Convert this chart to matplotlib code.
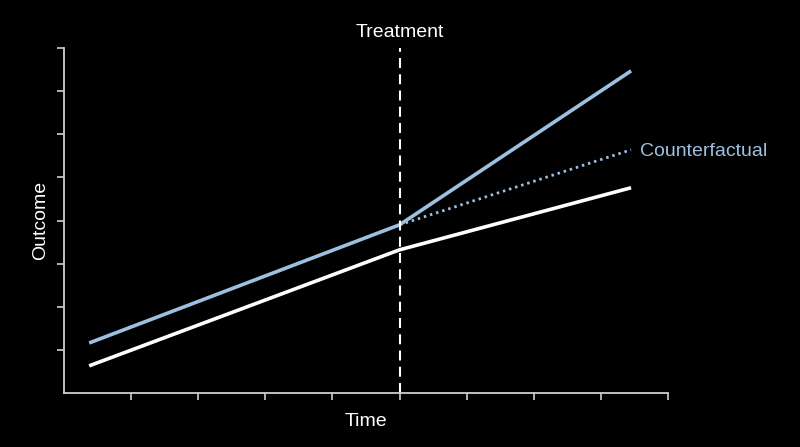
import matplotlib
matplotlib.use("Agg")
import matplotlib.pyplot as plt

# data
time = [0.375, 5.0, 8.45]
control = [0.63, 3.32, 4.76]
treated = [1.16, 3.90, 7.47]
cf_time = [5.0, 8.45]
counterfactual = [3.90, 5.64]
treatment_time = 5.0

x_ticks = list(range(1, 10))
y_ticks = list(range(1, 9))

BLUE = "#9dc0e0"
AXIS = "#cfcfcf"

plt.rcParams["font.family"] = ["Liberation Sans", "DejaVu Sans"]

fig = plt.figure(figsize=(8, 4.47), dpi=100, facecolor="black")
ax = fig.add_axes([0.08, 0.1208, 0.755, 0.7718], facecolor="black")

ax.plot(time, control, color="white", linewidth=2.6, solid_capstyle="butt")
ax.plot(time, treated, color=BLUE, linewidth=2.6, solid_capstyle="butt")
ax.plot(cf_time, counterfactual, color=BLUE, linewidth=2.0, linestyle=(0, (0.9, 1.4)))
ax.axvline(treatment_time, color="white", linewidth=1.5, linestyle=(0, (4.8, 3)))

ax.text(cf_time[-1] + 0.14, counterfactual[-1] - 0.03, "Counterfactual", color=BLUE,
        fontsize=14, va="center", ha="left")
ax.text(treatment_time, 8.16, "Treatment", color="white", fontsize=14,
        ha="center", va="bottom")

ax.set_xlim(0, 9)
ax.set_ylim(0, 8)
ax.set_xticks(x_ticks)
ax.set_yticks(y_ticks)
ax.set_xticklabels([])
ax.set_yticklabels([])
ax.tick_params(colors=AXIS, length=5, width=1.2)

for side in ["top", "right"]:
    ax.spines[side].set_visible(False)
for side in ["left", "bottom"]:
    ax.spines[side].set_color(AXIS)
    ax.spines[side].set_linewidth(1.3)

ax.set_xlabel("Time", color="white", fontsize=14, labelpad=6)
ax.set_ylabel("Outcome", color="white", fontsize=14, labelpad=2)

fig.savefig("out.png", dpi=100, facecolor="black")
